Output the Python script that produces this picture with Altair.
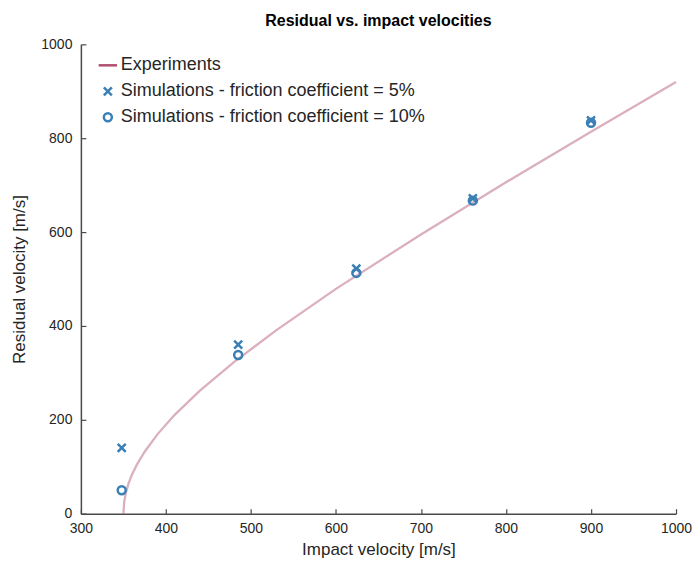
import altair as alt
import pandas as pd

exp_vi = [350, 351, 353, 356, 360, 366, 375, 390, 410, 440, 480, 530, 600, 700, 800, 900, 1000]
exp_vr = [0, 26, 45, 64, 83, 105, 132, 169, 210, 262, 323, 391, 479, 595, 706, 814, 920]

# Simulations
sim_vi = [348, 485, 624, 761, 900]
sim5_vr = [140, 360, 522, 672, 838]
sim10_vr = [50, 338, 513, 667, 833]

x_ticks = [300, 400, 500, 600, 700, 800, 900, 1000]
y_ticks = [0, 200, 400, 600, 800, 1000]

names = ["Experiments",
         "Simulations - friction coefficient = 5%",
         "Simulations - friction coefficient = 10%"]
line_col = "#b0506f"
blue = "#3a7fb5"
axis_col = "#4a4a4a"
text_col = "#262626"

exp_df = pd.DataFrame({"vi": exp_vi, "vr": exp_vr})
sim_df = pd.DataFrame({
    "vi": sim_vi + sim_vi,
    "vr": sim5_vr + sim10_vr,
    "series": [names[1]] * len(sim_vi) + [names[2]] * len(sim_vi),
})

xs = alt.Scale(domain=[300, 1000], nice=False)
ys = alt.Scale(domain=[0, 1000], nice=False)

common = dict(grid=False, labelFont="Liberation Sans", titleFont="Liberation Sans",
              labelFontSize=14, titleFontSize=17, titleFontWeight="normal",
              labelColor=text_col, titleColor=text_col, format="d", labelFlush=False,
              domain=True, domainColor=axis_col, domainWidth=1.5, domainOpacity=1)

xaxis = alt.Axis(title="Impact velocity [m/s]", values=x_ticks, orient="bottom",
                 ticks=False, labelPadding=8, titlePadding=6, **common)
yaxis = alt.Axis(title="Residual velocity [m/s]", values=y_ticks, orient="left",
                 ticks=False, labelPadding=9, titlePadding=12, **common)

# tick-only axes pushed inside the plot (inward ticks)
xtick_axis = alt.Axis(title=None, values=x_ticks, orient="bottom", grid=False, labels=False,
                      domain=False, ticks=True, tickSize=5, offset=-5, tickColor=axis_col, tickWidth=1.2)
ytick_axis = alt.Axis(title=None, values=y_ticks, orient="left", grid=False, labels=False,
                      domain=False, ticks=True, tickSize=5, offset=-5, tickColor=axis_col, tickWidth=1.2)

line = alt.Chart(exp_df).mark_line(color=line_col, opacity=0.45, strokeWidth=2.3).encode(
    x=alt.X("vi:Q", scale=xs, axis=xaxis),
    y=alt.Y("vr:Q", scale=ys, axis=yaxis),
)

ticks_layer = alt.Chart(exp_df).mark_point(opacity=0).encode(
    x=alt.X("vi:Q", scale=xs, axis=xtick_axis),
    y=alt.Y("vr:Q", scale=ys, axis=ytick_axis),
)

xpath = "M-1,-1L1,1M-1,1L1,-1"
strokepath = "M-2.3,0L2.3,0"

leg = alt.Legend(title=None, orient="none", legendX=18, legendY=12,
                 labelFontSize=18, symbolSize=64, symbolStrokeWidth=2.5,
                 labelOffset=4, rowPadding=8, labelLimit=500,
                 labelFont="Liberation Sans", labelColor=text_col)

pts = alt.Chart(sim_df).mark_point(filled=False, strokeWidth=2.5, size=64, opacity=1).encode(
    x=alt.X("vi:Q", scale=xs, axis=None),
    y=alt.Y("vr:Q", scale=ys, axis=None),
    color=alt.Color("series:N", scale=alt.Scale(domain=names, range=[line_col, blue, blue]), legend=leg),
    shape=alt.Shape("series:N", scale=alt.Scale(domain=names, range=[strokepath, xpath, "circle"]), legend=leg),
)

chart = alt.layer(line, ticks_layer, pts).resolve_axis(x="independent", y="independent").properties(
    width=596, height=470,
    padding={"left": 2, "right": 0, "top": 5, "bottom": 0},
    title=alt.TitleParams("Residual vs. impact velocities", fontSize=16, fontWeight="bold",
                          font="Liberation Sans", color="#000000", offset=8),
).configure_view(strokeWidth=0)

chart.save("out.html", embed_options={"renderer": "svg", "actions": False})
